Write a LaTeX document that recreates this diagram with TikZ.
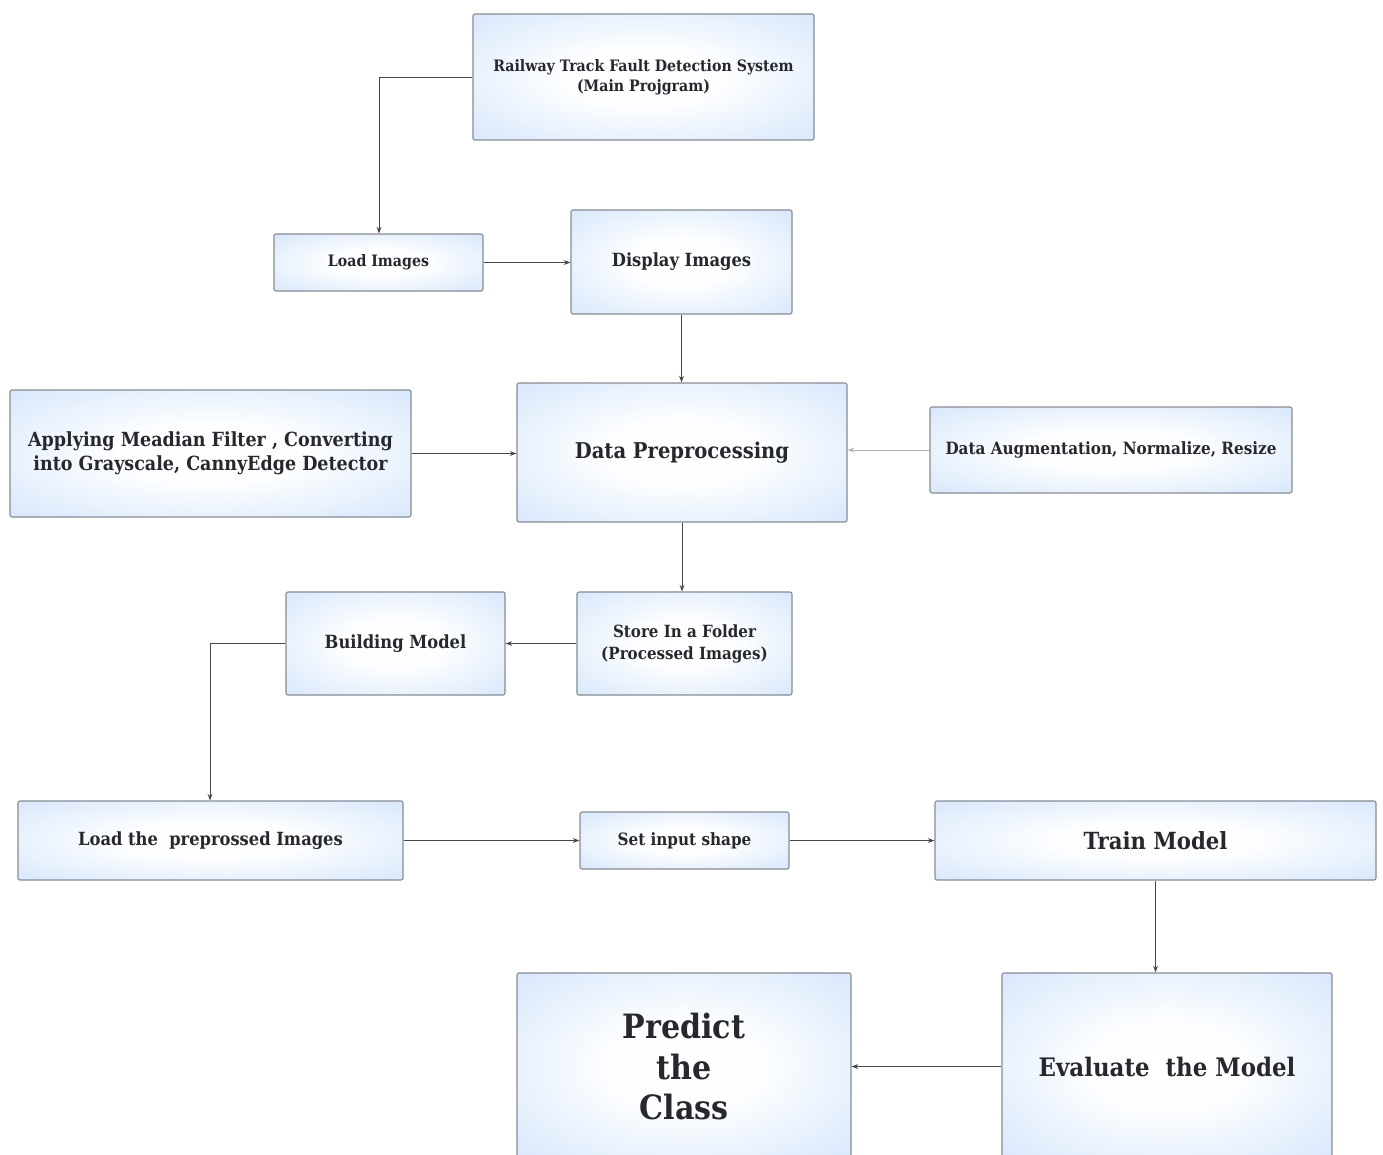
\documentclass[tikz,border=0pt]{standalone}
\usepackage{fontspec}
\setmainfont{DejaVu Serif Condensed}
\usetikzlibrary{arrows.meta}
\definecolor{boxblue}{RGB}{194,218,250}
\definecolor{edgegray}{RGB}{135,140,148}
\definecolor{txtc}{RGB}{38,40,46}
\pgfdeclareradialshading{boxshade}{\pgfpoint{0bp}{0bp}}{color(0bp)=(white); color(12bp)=(white!96!boxblue); color(50bp)=(boxblue); color(80bp)=(boxblue)}
\begin{document}
\begin{tikzpicture}[x=0.75pt,y=-0.75pt,
  box/.style={draw=edgegray, line width=0.8pt, rounded corners=1.5pt, shading=boxshade, text=txtc, align=center, inner sep=0pt},
  fsz/.style 2 args={font=\fontsize{#1}{#2}\selectfont\bfseries},
  sz/.style 2 args={minimum width=#1*0.75pt, minimum height=#2*0.75pt},
  arr/.style={draw=black!72, line width=0.7pt, -{Stealth[length=5pt,width=3.6pt]}},
  arrlight/.style={draw=black!30, line width=0.7pt, -{Stealth[length=5pt,width=3.6pt]}},
]
\clip (0,0) rectangle (1383,1154);
\fill[white] (0,0) rectangle (1383,1154);

\node[box, sz={341}{126}, fsz={11.8}{15}] (main) at (643.5,77) {Railway Track Fault Detection System\\(Main Projgram)};
\node[box, sz={209}{57}, fsz={11.8}{14}] (load) at (378.5,262.5) {Load Images};
\node[box, sz={221}{104}, fsz={13.6}{16}] (disp) at (681.5,262) {Display Images};
\node[box, sz={330}{139}, fsz={16.3}{19}] (dp) at (682,452.5) {Data Preprocessing};
\node[box, sz={401}{127}, fsz={14.6}{18}] (apply) at (210.5,453.5) {Applying Meadian Filter , Converting\\into Grayscale, CannyEdge Detector};
\node[box, sz={362}{86}, fsz={12.7}{15}] (aug) at (1111,450) {Data Augmentation, Normalize, Resize};
\node[box, sz={215}{103}, fsz={12.6}{16.5}] (store) at (684.5,643.5) {Store In a Folder\\(Processed Images)};
\node[box, sz={219}{103}, fsz={13.6}{16}] (build) at (395.5,643.5) {Building Model};
\node[box, sz={385}{79}, fsz={13.6}{16}] (loadp) at (210.5,840.5) {Load the\ \ preprossed Images};
\node[box, sz={209}{57}, fsz={12.7}{15}] (setin) at (684.5,840.5) {Set input shape};
\node[box, sz={441}{79}, fsz={17.7}{21}] (train) at (1155.5,840.5) {Train Model};
\node[box, sz={330}{187}, fsz={19.1}{23}] (eval) at (1167,1066.5) {Evaluate\ \ the Model};
\node[box, sz={334}{187}, fsz={25.1}{30.4}] (pred) at (684,1066.5) {Predict\\the\\Class};

\coordinate (c1) at (379,77);
\coordinate (c2) at (210,643.5);
\draw[arr] (main.west) -- (c1) -- (load.north -| c1);
\draw[arr] (load.east) -- (disp.west |- load.east);
\draw[arr] (disp.south) -- (dp.north -| disp.south);
\draw[arr] (apply.east) -- (dp.west |- apply.east);
\draw[arrlight] (aug.west) -- (dp.east |- aug.west);
\draw[arr] (dp.south) -- (store.north -| dp.south);
\draw[arr] (store.west) -- (build.east);
\draw[arr] (build.west) -- (c2) -- (loadp.north -| c2);
\draw[arr] (loadp.east) -- (setin.west);
\draw[arr] (setin.east) -- (train.west);
\draw[arr] (train.south) -- (eval.north -| train.south);
\draw[arr] (eval.west) -- (pred.east);
\end{tikzpicture}
\end{document}
